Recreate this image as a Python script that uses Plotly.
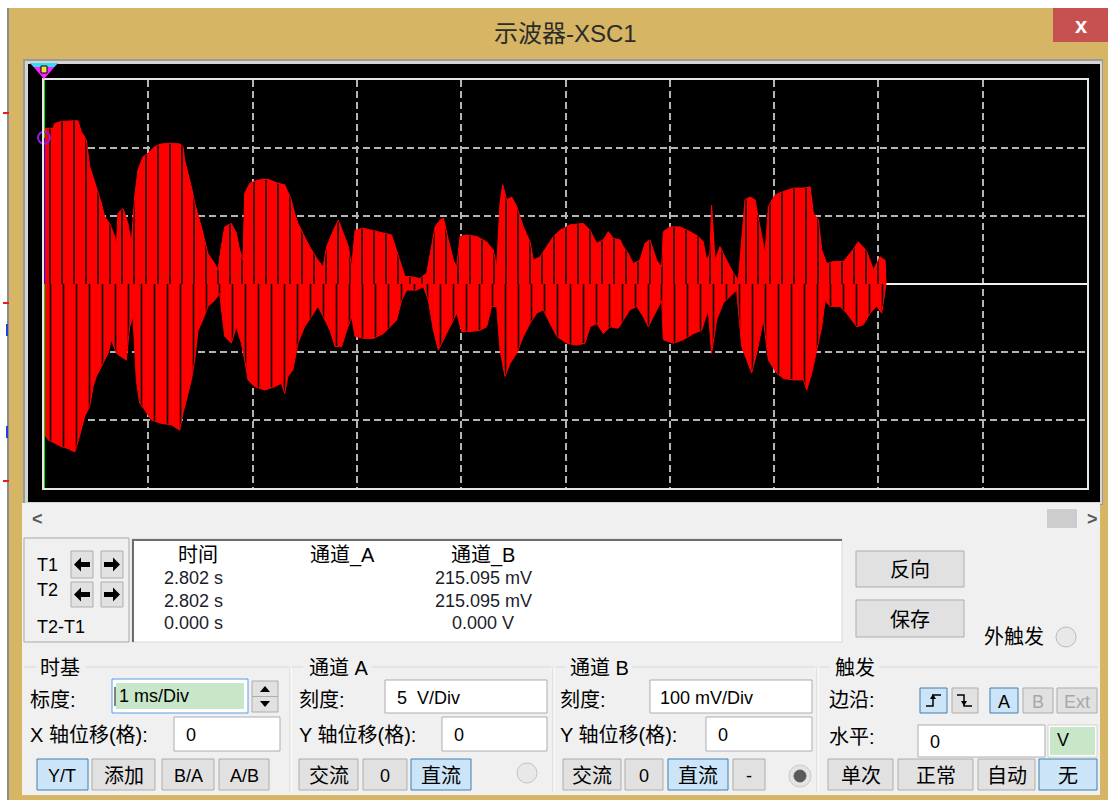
import plotly.graph_objects as go

W, H = 1108, 800

# ---- channel B trace envelope (time in ms, voltage in mV) ----
t_upper = [0.000, 0.086, 0.102, 0.166, 0.294, 0.326, 0.358, 0.406, 0.438, 0.470, 0.518, 0.550,
           0.582, 0.630, 0.678, 0.694, 0.709, 0.757, 0.805, 0.837, 0.869, 0.901, 0.949, 0.997,
           1.061, 1.125, 1.221, 1.301, 1.333, 1.349, 1.413, 1.445, 1.509, 1.572, 1.636, 1.668,
           1.700, 1.732, 1.796, 1.844, 1.876, 1.908, 1.924, 1.972, 2.052, 2.148, 2.244, 2.308,
           2.371, 2.403, 2.435, 2.499, 2.547, 2.627, 2.675, 2.710, 2.774, 2.822, 2.870, 2.918,
           2.950, 2.982, 3.063, 3.157, 3.253, 3.333, 3.381, 3.429, 3.461, 3.509, 3.605, 3.669,
           3.701, 3.749, 3.797, 3.829, 3.877, 3.925, 3.957, 3.989, 4.053, 4.148, 4.244, 4.308,
           4.340, 4.372, 4.398, 4.436, 4.484, 4.532, 4.596, 4.660, 4.692, 4.756, 4.820, 4.884,
           4.948, 5.043, 5.171, 5.235, 5.299, 5.363, 5.411, 5.459, 5.523, 5.555, 5.602, 5.650,
           5.714, 5.762, 5.810, 5.874, 5.922, 5.938, 6.002, 6.098, 6.194, 6.273, 6.321, 6.353,
           6.385, 6.401, 6.433, 6.481, 6.545, 6.609, 6.657, 6.689, 6.721, 6.769, 6.817, 6.865,
           6.913, 6.945, 7.009, 7.089, 7.185, 7.281, 7.345, 7.377, 7.425, 7.457, 7.504, 7.568,
           7.664, 7.728, 7.808, 7.888, 7.952, 8.016, 8.064, 8.073]
v_upper = [229, 229, 236, 239, 240, 240, 224, 212, 173, 158, 133, 119,
           99, 89, 70, 55, 104, 111, 89, 60, 128, 168, 187, 192,
           202, 206, 207, 206, 202, 182, 143, 119, 84, 45, 30, 21,
           55, 84, 89, 75, 50, 35, 133, 148, 153, 154, 148, 146,
           124, 104, 89, 70, 55, 35, 25, 55, 79, 94, 75, 55,
           25, 79, 82, 79, 75, 72, 50, 25, 11, 11, 8, 16,
           45, 84, 94, 97, 65, 35, 25, 70, 72, 70, 62, 50,
           25, 119, 146, 124, 128, 114, 84, 62, 35, 40, 55, 70,
           79, 87, 89, 79, 60, 65, 77, 67, 65, 55, 45, 30,
           35, 60, 65, 35, 25, 77, 84, 84, 77, 70, 62, 35,
           45, 116, 35, 55, 35, 16, 6, 65, 124, 128, 124, 84,
           45, 114, 131, 136, 141, 141, 143, 104, 94, 50, 30, 33,
           33, 45, 62, 48, 21, 40, 35, 0]

t_lower = [0.000, 0.038, 0.102, 0.166, 0.230, 0.294, 0.326, 0.358, 0.390, 0.438, 0.470, 0.502,
           0.550, 0.614, 0.646, 0.694, 0.742, 0.789, 0.821, 0.853, 0.885, 0.917, 0.965, 1.029,
           1.125, 1.221, 1.301, 1.333, 1.381, 1.413, 1.445, 1.477, 1.509, 1.572, 1.636, 1.684,
           1.732, 1.796, 1.844, 1.892, 1.924, 1.956, 2.020, 2.116, 2.212, 2.276, 2.308, 2.339,
           2.387, 2.435, 2.499, 2.563, 2.627, 2.694, 2.742, 2.790, 2.854, 2.902, 2.950, 2.982,
           3.063, 3.157, 3.253, 3.317, 3.381, 3.429, 3.477, 3.573, 3.637, 3.685, 3.733, 3.781,
           3.829, 3.893, 3.957, 4.005, 4.084, 4.180, 4.244, 4.292, 4.340, 4.372, 4.420, 4.468,
           4.532, 4.596, 4.660, 4.724, 4.788, 4.852, 4.916, 5.012, 5.107, 5.187, 5.235, 5.299,
           5.363, 5.427, 5.507, 5.555, 5.618, 5.682, 5.746, 5.794, 5.858, 5.922, 5.938, 6.034,
           6.130, 6.226, 6.305, 6.369, 6.401, 6.449, 6.513, 6.577, 6.641, 6.689, 6.737, 6.785,
           6.833, 6.897, 6.945, 7.025, 7.089, 7.185, 7.281, 7.313, 7.361, 7.409, 7.457, 7.489,
           7.536, 7.632, 7.696, 7.792, 7.856, 7.920, 7.984, 8.032, 8.064, 8.073]
v_lower = [-220, -229, -234, -239, -242, -247, -232, -215, -195, -180, -151, -136,
           -122, -102, -82, -102, -107, -112, -63, -48, -141, -175, -185, -200,
           -205, -207, -215, -190, -161, -141, -112, -68, -58, -33, -24, -14,
           -77, -87, -63, -87, -112, -141, -151, -156, -151, -146, -161, -136,
           -126, -87, -63, -48, -33, -53, -68, -92, -92, -68, -48, -77,
           -80, -80, -73, -63, -53, -24, -9, -9, -4, -24, -68, -97,
           -82, -63, -43, -70, -70, -68, -63, -33, -33, -97, -136, -117,
           -102, -77, -58, -43, -38, -58, -77, -87, -90, -87, -63, -58,
           -73, -63, -65, -53, -38, -33, -48, -63, -43, -24, -82, -87,
           -82, -73, -68, -38, -102, -53, -28, -19, -9, -92, -112, -131,
           -102, -53, -112, -131, -139, -141, -141, -156, -131, -97, -63, -24,
           -33, -33, -43, -63, -60, -43, -33, -43, -14, 0]

# channel A trace (flat at 0 V) across the sweep
ch_a_t = [0, 10]
ch_a_v = [0, 0]

# cursor readout
cursor_t = 0.0
cursor_vb = 215.095
screen_ms = [0, 10]
screen_mv = [-300, 300]

readout_headers = ["时间", "通道_A", "通道_B"]
readout_rows = [["2.802 s", "", "215.095 mV"],
                ["2.802 s", "", "215.095 mV"],
                ["0.000 s", "", "0.000 V"]]
row_names = ["T1", "T2", "T2-T1"]

timebase_scale = "1 ms/Div"
cha_scale = "5  V/Div"
chb_scale = "100 mV/Div"
trigger_level = "0"

FONT = "Liberation Sans, Noto Sans CJK SC, sans-serif"
TAN = "#d6b664"
PANEL = "#f0f0f0"
BTN = "#e1e1e1"
BTN_LINE = "#adadad"
ACT = "#cce4f7"
ACT_LINE = "#3c7fb1"

# graticule placement on the page (pixels)
GX0, GX1, GY0, GY1 = 44, 1087, 80, 488

shapes = []
annotations = []


def px(x):
    return x / W


def py(y):
    return 1 - y / H


def rect(x0, y0, x1, y1, fill, line=None, lw=1, layer="below"):
    shapes.append(dict(type="rect", xref="paper", yref="paper",
                       x0=px(x0), x1=px(x1), y0=py(y1), y1=py(y0),
                       fillcolor=fill, layer=layer,
                       line=dict(color=line if line else fill, width=lw if line else 0)))


def hline(x0, x1, y, color, lw=1):
    shapes.append(dict(type="line", xref="paper", yref="paper", x0=px(x0), x1=px(x1),
                       y0=py(y), y1=py(y), line=dict(color=color, width=lw), layer="below"))


def vline(x, y0, y1, color, lw=1):
    shapes.append(dict(type="line", xref="paper", yref="paper", x0=px(x), x1=px(x),
                       y0=py(y0), y1=py(y1), line=dict(color=color, width=lw), layer="below"))


def poly(points, fill, line=None, lw=0, closed=True, layer="below"):
    d = "M " + " L ".join(f"{px(a):.5f},{py(b):.5f}" for a, b in points)
    if closed:
        d += " Z"
    shapes.append(dict(type="path", xref="paper", yref="paper", path=d,
                       fillcolor=fill if closed else None, layer=layer,
                       line=dict(color=line if line else fill, width=lw)))


def circle(cx, cy, r, fill, line, lw=1):
    shapes.append(dict(type="circle", xref="paper", yref="paper",
                       x0=px(cx - r), x1=px(cx + r), y0=py(cy + r), y1=py(cy - r),
                       fillcolor=fill, line=dict(color=line, width=lw), layer="below"))


def text(x, y, s, size=19, color="#000000", anchor="left", bg=None):
    a = dict(xref="paper", yref="paper", x=px(x), y=py(y), text=s, showarrow=False,
             xanchor=anchor, yanchor="middle",
             font=dict(size=size, color=color, family=FONT))
    if bg:
        a["bgcolor"] = bg
    annotations.append(a)


def button(x0, y0, x1, y1, label, active=False, disabled=False, size=19):
    rect(x0, y0, x1, y1, ACT if active else BTN, ACT_LINE if active else BTN_LINE, 1)
    if label:
        text((x0 + x1) / 2, (y0 + y1) / 2 + 1, label, size=size,
             color="#a8a8a8" if disabled else "#000000", anchor="center")


def textbox(x0, y0, x1, y1, value, pad=10):
    rect(x0, y0, x1, y1, "#ffffff", "#abadb3", 1)
    text(x0 + pad, (y0 + y1) / 2 + 1, value, size=18)


def arrow(cx, cy, direction):
    s = direction
    pts = [(cx - 8 * s, cy), (cx - 1 * s, cy - 7), (cx - 1 * s, cy - 2.5), (cx + 8 * s, cy - 2.5),
           (cx + 8 * s, cy + 2.5), (cx - 1 * s, cy + 2.5), (cx - 1 * s, cy + 7)]
    poly(pts, "#000000")


# ---- window frame ----
rect(0, 0, W, 8, "#ffffff")
rect(0, 0, 7, H, "#ffffff")
vline(8, 8, H, "#8c8c8c", 2)
rect(1053, 8, W, 42, "#c75050")
text(1081, 25, "<b>x</b>", size=22, color="#ffffff", anchor="center")
text(565, 34, "示波器-XSC1", size=24, color="#2b2b2b", anchor="center")

# stray marks at the left edge
for yy in (113, 303, 481):
    hline(3, 9, yy, "#e02020", 2)
for yy in (330, 432):
    vline(7, yy - 6, yy + 6, "#2040e0", 2)

# ---- screen bezel ----
rect(23, 59, 1103, 505, "#9a9a9a")
rect(25, 61, 1102, 504, "#d4d4d4")
rect(28, 64, 1100, 502, "#000000")

# ---- lower panel ----
rect(22, 503, 1100, 795, PANEL)
text(37, 519, "<b>&lt;</b>", size=18, color="#5a5a5a", anchor="center")
rect(1047, 509, 1077, 528, "#cdcdcd")
text(1092, 519, "<b>&gt;</b>", size=18, color="#5a5a5a", anchor="center")

# cursor buttons box
rect(24, 538, 129, 642, PANEL, "#a8a8a8", 1)
text(35, 565, row_names[0], size=18)
text(35, 590, row_names[1], size=18)
text(35, 627, row_names[2], size=18)
for yy0, yy1 in ((551, 578), (582, 607)):
    button(71, yy0, 93, yy1, "")
    button(101, yy0, 123, yy1, "")
    arrow(82, (yy0 + yy1) / 2, 1)
    arrow(112, (yy0 + yy1) / 2, -1)

# readout
rect(132, 539, 842, 642, "#ffffff", "#d8d8d8", 1)
hline(132, 842, 540, "#6e6e6e", 2)
vline(133, 539, 642, "#6e6e6e", 2)
col_x = [198, 342, 483]
row_y = [578, 601, 623]
for cx, hdr in zip(col_x, readout_headers):
    text(cx, 555, hdr, size=20, anchor="center")
for ry, row in zip(row_y, readout_rows):
    for cx, val in zip(col_x, row):
        if val:
            text(cx - 5 if val.endswith("s") else cx, ry, val, size=18, color="#1c1c2c",
                 anchor="center")

button(856, 551, 964, 587, "反向", size=20)
button(856, 600, 964, 637, "保存", size=20)
text(982, 637, "外触发", size=20)
circle(1066, 637, 10, "#e8e8e8", "#bcbcbc")

# group separators
for x0, x1 in ((24, 36), (86, 289), (291, 303), (372, 551), (555, 565), (632, 815), (819, 829), (879, 1098)):
    hline(x0, x1, 667, "#d8d8d8")
for xx in (290, 553, 817):
    vline(xx, 667, 793, "#d5d5d5")
    vline(xx + 1, 667, 793, "#ffffff")

# time base
text(38, 668, "时基", size=20)
text(28, 700, "标度:", size=20)
rect(112, 679, 248, 713, "#ffffff", "#569de5", 1)
rect(116, 683, 244, 709, "#c8e6c8")
vline(115, 687, 706, "#000000", 1)
text(117, 696, timebase_scale, size=18)
rect(252, 681, 278, 712, BTN, BTN_LINE, 1)
hline(252, 278, 696.5, BTN_LINE)
poly([(260, 692), (270, 692), (265, 686)], "#000000")
poly([(260, 701), (270, 701), (265, 707)], "#000000")
text(28, 735, "X 轴位移(格):", size=20)
textbox(174, 717, 280, 751, "0")
button(37, 759, 88, 790, "Y/T", active=True, size=18)
button(92, 759, 155, 790, "添加", size=20)
button(162, 759, 214, 790, "B/A", size=18)
button(219, 759, 269, 790, "A/B", size=18)

# channel A
text(307, 668, "通道 A", size=20)
text(297, 700, "刻度:", size=20)
textbox(385, 680, 547, 713, cha_scale)
text(297, 735, "Y 轴位移(格):", size=20)
textbox(442, 717, 547, 751, "0")
button(299, 759, 358, 790, "交流", size=20)
button(363, 759, 407, 790, "0", size=18)
button(411, 759, 471, 790, "直流", active=True, size=20)
circle(527, 773, 10, "#e8e8e8", "#c4c4c4")

# channel B
text(568, 668, "通道 B", size=20)
text(558, 700, "刻度:", size=20)
textbox(650, 680, 812, 713, chb_scale, pad=8)
text(558, 735, "Y 轴位移(格):", size=20)
textbox(706, 717, 812, 751, "0")
button(563, 759, 621, 790, "交流", size=20)
button(625, 759, 663, 790, "0", size=18)
button(668, 759, 728, 790, "直流", active=True, size=20)
button(733, 759, 765, 790, "-", size=18)
circle(800, 776, 11, "#e4e4e4", "#c8c8c8")
circle(800, 776, 6, "#5a5a5a", "#5a5a5a")

# trigger
text(833, 668, "触发", size=20)
text(827, 700, "边沿:", size=20)
button(920, 688, 947, 713, "", active=True)
poly([(926, 706), (933, 706), (933, 695), (941, 695)], None, "#000000", 1.5, closed=False)
poly([(930, 699), (933, 694), (936, 699)], "#000000")
button(952, 688, 978, 713, "")
poly([(957, 695), (964, 695), (964, 706), (972, 706)], None, "#000000", 1.5, closed=False)
poly([(961, 701), (964, 706), (967, 701)], "#000000")
button(990, 688, 1018, 713, "A", active=True, size=18)
button(1023, 688, 1053, 713, "B", disabled=True, size=18)
button(1057, 688, 1097, 713, "Ext", disabled=True, size=18)
text(827, 737, "水平:", size=20)
textbox(918, 725, 1045, 757, trigger_level, pad=10)
rect(1048, 725, 1097, 757, "#ffffff", "#d0d0d0", 1)
rect(1050, 727, 1095, 755, "#c8e6c8")
text(1063, 740, "V", size=18, anchor="center")
button(828, 759, 893, 790, "单次", size=20)
button(898, 759, 973, 790, "正常", size=20)
button(978, 759, 1035, 790, "自动", size=20)
button(1039, 759, 1097, 790, "无", active=True, size=20)

# ---- traces ----
fig = go.Figure()
fig.add_trace(go.Scatter(x=ch_a_t, y=ch_a_v, mode="lines",
                         line=dict(color="#f0f0f0", width=2), hoverinfo="skip"))
for t, v, sz in ((t_upper, v_upper, 12), (t_lower, v_lower, 13)):
    fig.add_trace(go.Scatter(
        x=t, y=v, mode="lines", fill="tozeroy",
        line=dict(color="#ff0000", width=1), fillcolor="#ff0000",
        fillpattern=dict(shape="|", fgcolor="#000000", bgcolor="#ff0000",
                         size=sz, solidity=0.12, fillmode="replace"),
        hoverinfo="skip"))

# cursor line, cursor reading and marker
fig.add_trace(go.Scatter(x=[cursor_t, cursor_t], y=screen_mv, mode="lines",
                         line=dict(color="#00e000", width=2), cliponaxis=False, hoverinfo="skip"))
fig.add_trace(go.Scatter(x=[cursor_t, cursor_t], y=[0, cursor_vb], mode="lines",
                         line=dict(color="#1010ff", width=2), cliponaxis=False, hoverinfo="skip"))
fig.add_trace(go.Scatter(x=[cursor_t], y=[cursor_vb], mode="markers",
                         marker=dict(symbol="circle-open", size=12, color="#9020e0",
                                     line=dict(width=2, color="#9020e0")),
                         cliponaxis=False, hoverinfo="skip"))

# cursor handle above the graticule, placed at the cursor time
cx_px = GX0 + (cursor_t - screen_ms[0]) / (screen_ms[1] - screen_ms[0]) * (GX1 - GX0)
poly([(cx_px - 14, 63), (cx_px + 14, 63), (cx_px, 79)], "#ff20ff", layer="above")
poly([(cx_px - 14, 63), (cx_px + 14, 63), (cx_px + 10, 67), (cx_px - 10, 67)], "#30e0f0",
     layer="above")
rect(cx_px - 3, 66, cx_px + 3, 73, "#f0e040", "#000000", 1, layer="above")

axis_common = dict(showgrid=True, gridcolor="#b4b4b4", gridwidth=1.5, griddash="7px,4px",
                   zeroline=False, showline=True, linecolor="#e6e6e6", linewidth=2, mirror=True,
                   showticklabels=False, ticks="", fixedrange=True)

fig.update_layout(
    width=W, height=H, autosize=False,
    margin=dict(l=0, r=0, t=0, b=0),
    paper_bgcolor=TAN, plot_bgcolor="#000000",
    showlegend=False,
    xaxis=dict(domain=[px(GX0), px(GX1)], range=screen_ms, dtick=1, tick0=0, **axis_common),
    yaxis=dict(domain=[py(GY1), py(GY0)], range=screen_mv, dtick=100, tick0=0, **axis_common),
    shapes=shapes, annotations=annotations,
    font=dict(family=FONT),
)

fig.write_html("out.html", config={"displayModeBar": False})
